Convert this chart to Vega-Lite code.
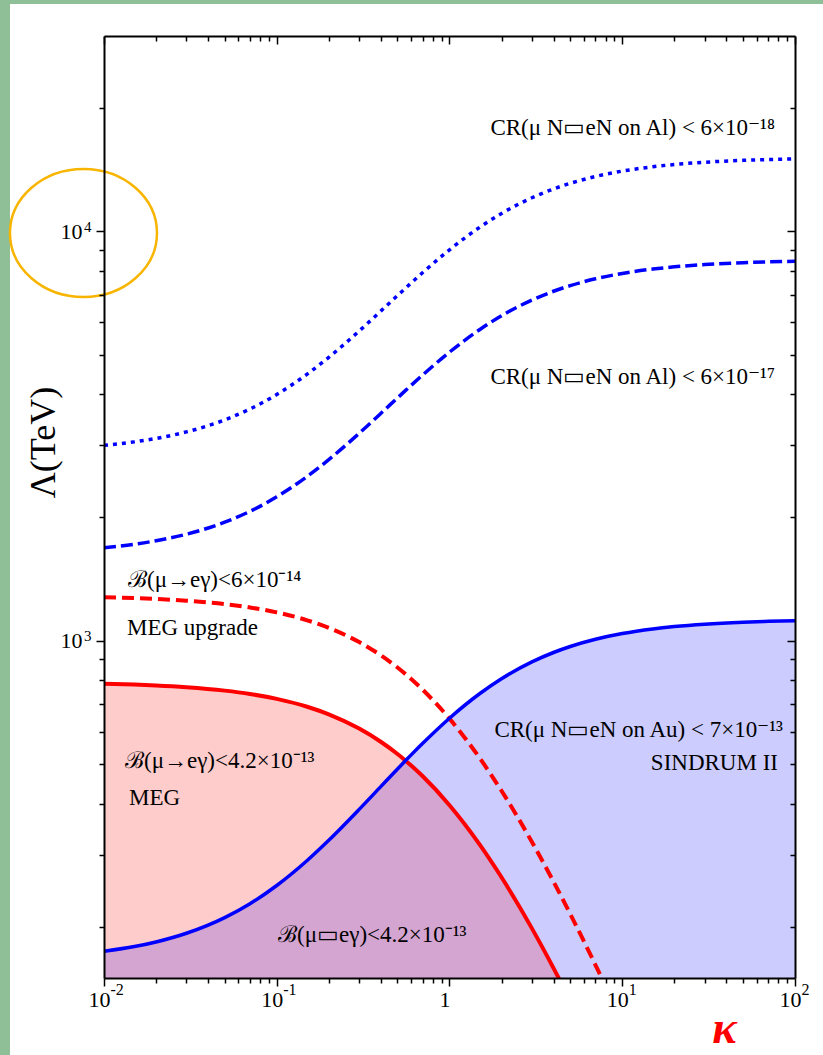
{
  "$schema": "https://vega.github.io/schema/vega-lite/v6.json",
  "width": 691,
  "height": 942,
  "autosize": {"type": "none"},
  "padding": {"left": 104, "top": 36, "right": 28, "bottom": 77},
  "background": "#8fbf96",
  "config": {
    "view": {"stroke": null},
    "axis": {
      "grid": false,
      "labelFont": "Liberation Serif",
      "labelFontSize": 22,
      "labelColor": "#000000",
      "tickColor": "#000000",
      "tickWidth": 1.5,
      "domainColor": "#000000",
      "domainWidth": 2,
      "titleFont": "Liberation Serif",
      "titleColor": "#000000",
      "titleFontWeight": "normal"
    }
  },
  "datasets": {
    "canvas": [{"x1": 0.002857, "x2": 300, "y1": 35920, "y2": 50}],
    "curves": [
      {"k": 0.01, "meg": 785.1, "megup": 1277.2, "au": 174.3, "ov": 174.3, "al17": 1687.3, "al18": 3000},
      {"k": 0.015, "meg": 781.3, "megup": 1270.9, "au": 179.0, "ov": 179.0, "al17": 1721.0, "al18": 3060},
      {"k": 0.02, "meg": 777.5, "megup": 1264.7, "au": 183.7, "ov": 183.7, "al17": 1754.3, "al18": 3119},
      {"k": 0.03, "meg": 769.9, "megup": 1252.4, "au": 192.9, "ov": 192.9, "al17": 1819.9, "al18": 3236},
      {"k": 0.05, "meg": 755.2, "megup": 1228.6, "au": 210.7, "ov": 210.7, "al17": 1947.5, "al18": 3463},
      {"k": 0.07, "meg": 741.1, "megup": 1205.6, "au": 227.8, "ov": 227.8, "al17": 2070.3, "al18": 3681},
      {"k": 0.1, "meg": 720.9, "megup": 1172.7, "au": 252.4, "ov": 252.4, "al17": 2246.2, "al18": 3994},
      {"k": 0.15, "meg": 689.6, "megup": 1121.7, "au": 290.5, "ov": 290.5, "al17": 2518.9, "al18": 4479},
      {"k": 0.2, "meg": 660.8, "megup": 1075.0, "au": 325.4, "ov": 325.4, "al17": 2768.8, "al18": 4923},
      {"k": 0.3, "meg": 610.0, "megup": 992.3, "au": 387.2, "ov": 387.2, "al17": 3211.1, "al18": 5709},
      {"k": 0.4, "meg": 566.4, "megup": 921.4, "au": 440.1, "ov": 440.1, "al17": 3590.1, "al18": 6383},
      {"k": 0.5, "meg": 528.7, "megup": 860.0, "au": 486.0, "ov": 486.0, "al17": 3918.7, "al18": 6968},
      {"k": 0.557, "meg": 509.3, "megup": 828.5, "au": 509.6, "ov": 509.3, "al17": 4087.0, "al18": 7267},
      {"k": 0.6, "meg": 495.6, "megup": 806.3, "au": 526.2, "ov": 495.6, "al17": 4206.1, "al18": 7478},
      {"k": 0.7, "meg": 466.5, "megup": 758.8, "au": 561.6, "ov": 466.5, "al17": 4459.8, "al18": 7930},
      {"k": 1, "meg": 396.5, "megup": 645.0, "au": 646.7, "ov": 396.5, "al17": 5068.5, "al18": 9012},
      {"k": 1.5, "meg": 317.2, "megup": 516.0, "au": 743.0, "ov": 317.2, "al17": 5758.4, "al18": 10238},
      {"k": 2, "meg": 264.3, "megup": 430.0, "au": 807.3, "ov": 264.3, "al17": 6218.3, "al18": 11056},
      {"k": 3, "meg": 198.3, "megup": 322.5, "au": 887.6, "ov": 198.3, "al17": 6793.3, "al18": 12078},
      {"k": 4, "meg": 158.6, "megup": 258.0, "au": 935.8, "ov": 158.6, "al17": 7138.2, "al18": 12692},
      {"k": 5, "meg": 132.2, "megup": 215.0, "au": 967.9, "ov": 132.2, "al17": 7368.2, "al18": 13101},
      {"k": 7, "meg": 99.1, "megup": 161.3, "au": 1008.0, "ov": null, "al17": 7655.6, "al18": 13612},
      {"k": 10, "meg": 72.1, "megup": 117.3, "au": 1040.9, "ov": null, "al17": 7890.8, "al18": 14030},
      {"k": 15, "meg": null, "megup": null, "au": 1068.3, "ov": null, "al17": 8086.8, "al18": 14378},
      {"k": 20, "meg": null, "megup": null, "au": 1082.6, "ov": null, "al17": 8189.5, "al18": 14561},
      {"k": 30, "meg": null, "megup": null, "au": 1097.4, "ov": null, "al17": 8295.5, "al18": 14749},
      {"k": 50, "meg": null, "megup": null, "au": 1109.6, "ov": null, "al17": 8382.7, "al18": 14905},
      {"k": 70, "meg": null, "megup": null, "au": 1114.9, "ov": null, "al17": 8420.8, "al18": 14972},
      {"k": 100, "meg": null, "megup": null, "au": 1119.0, "ov": null, "al17": 8449.7, "al18": 15024}
    ],
    "textsLeft": [
      {"t": "ℬ(μ→eγ)<6×10⁻¹⁴", "k": 0.01377, "v": 1407},
      {"t": "MEG upgrade", "k": 0.01359, "v": 1074},
      {"t": "ℬ(μ→eγ)<4.2×10⁻¹³", "k": 0.01323, "v": 508.4},
      {"t": "MEG", "k": 0.01395, "v": 412.9},
      {"t": "ℬ(μ▭eγ)<4.2×10⁻¹³", "k": 0.1017, "v": 191.0}
    ],
    "textsRight": [
      {"t": "CR(μ N▭eN on Al) < 6×10⁻¹⁸", "k": 76.6, "v": 17880},
      {"t": "CR(μ N▭eN on Al) < 6×10⁻¹⁷", "k": 76.6, "v": 4406},
      {"t": "CR(μ N▭eN on Au) < 7×10⁻¹³", "k": 85.2, "v": 605.3},
      {"t": "SINDRUM II", "k": 79.7, "v": 502.9}
    ],
    "ellipse": [{"k": 0.007606, "v": 9904}]
  },
  "resolve": {"axis": {"x": "independent", "y": "independent"}},
  "layer": [
    {
      "data": {"name": "canvas"},
      "mark": {"type": "rect", "fill": "#ffffff", "clip": false},
      "encoding": {
        "x": {"field": "x1", "type": "quantitative", "scale": {"type": "log", "domain": [0.01, 100], "nice": false}, "axis": null},
        "x2": {"field": "x2"},
        "y": {"field": "y1", "type": "quantitative", "scale": {"type": "log", "domain": [150, 30000], "nice": false}, "axis": null},
        "y2": {"field": "y2"}
      }
    },
    {
      "data": {"name": "curves"},
      "transform": [{"filter": "datum.meg != null"}],
      "mark": {"type": "area", "fill": "#ffcccc", "clip": true, "interpolate": "monotone"},
      "encoding": {
        "x": {"field": "k", "type": "quantitative", "scale": {"type": "log", "domain": [0.01, 100], "nice": false},
          "axis": {"orient": "bottom", "zindex": 2, "values": [0.01, 0.1, 1, 10, 100], "tickSize": 8, "labelPadding": 3,
            "labelFontSize": 22, "labelOffset": -5,
            "labelExpr": "datum.value > 0.5 && datum.value < 5 ? '\u00a0\u00a01' : '10'",
            "labelFlush": false, "labelOverlap": false,
            "title": "κ", "titleFontSize": 46, "titleFontStyle": "italic", "titleFontWeight": "bold", "titleColor": "#ff0000",
            "titleX": 620, "titleY": 50, "titleAlign": "center", "titleBaseline": "middle", "titleAngle": 0}},
        "y": {"field": "meg", "type": "quantitative", "scale": {"type": "log", "domain": [150, 30000], "nice": false},
          "axis": {"orient": "left", "zindex": 2, "values": [1000, 10000], "tickSize": 8, "labelPadding": 14,
            "labelFontSize": 22, "labelExpr": "'10'",
            "title": "Λ(TeV)", "titleFontSize": 36, "titleX": -61, "titleY": 406, "titleAlign": "center", "titleBaseline": "middle", "titleAngle": -90}},
        "y2": {"datum": 150}
      }
    },
    {
      "data": {"name": "curves"},
      "mark": {"type": "area", "fill": "#ccccff", "clip": true, "interpolate": "monotone"},
      "encoding": {
        "x": {"field": "k", "type": "quantitative", "scale": {"type": "log", "domain": [0.01, 100], "nice": false},
          "axis": {"orient": "bottom", "zindex": 2, "values": [0.02, 0.03, 0.04, 0.05, 0.06, 0.07, 0.08, 0.09, 0.2, 0.3, 0.4, 0.5, 0.6, 0.7, 0.8, 0.9, 2, 3, 4, 5, 6, 7, 8, 9, 20, 30, 40, 50, 60, 70, 80, 90], "tickSize": 5, "labels": false, "domain": false, "title": null}},
        "y": {"field": "au", "type": "quantitative", "scale": {"type": "log", "domain": [150, 30000], "nice": false},
          "axis": {"orient": "left", "zindex": 2, "values": [200, 300, 400, 500, 600, 700, 800, 900, 2000, 3000, 4000, 5000, 6000, 7000, 8000, 9000, 20000], "tickSize": 5, "labels": false, "domain": false, "title": null}},
        "y2": {"datum": 150}
      }
    },
    {
      "data": {"name": "curves"},
      "transform": [{"filter": "datum.ov != null"}],
      "mark": {"type": "area", "fill": "#d4a5d0", "clip": true, "interpolate": "linear"},
      "encoding": {
        "x": {"field": "k", "type": "quantitative", "scale": {"type": "log", "domain": [0.01, 100], "nice": false}, "axis": null},
        "y": {"field": "ov", "type": "quantitative", "scale": {"type": "log", "domain": [150, 30000], "nice": false}, "axis": null},
        "y2": {"datum": 150}
      }
    },
    {
      "data": {"name": "curves"},
      "transform": [{"filter": "datum.meg != null"}],
      "mark": {"type": "line", "stroke": "#ff0000", "strokeWidth": 4, "clip": true, "interpolate": "monotone"},
      "encoding": {
        "x": {"field": "k", "type": "quantitative", "scale": {"type": "log", "domain": [0.01, 100], "nice": false},
          "axis": {"orient": "top", "zindex": 2, "values": [0.01, 0.1, 1, 10, 100], "tickSize": -8, "labels": false, "title": null}},
        "y": {"field": "meg", "type": "quantitative", "scale": {"type": "log", "domain": [150, 30000], "nice": false},
          "axis": {"orient": "right", "zindex": 2, "values": [1000, 10000], "tickSize": -8, "labels": false, "title": null}}
      }
    },
    {
      "data": {"name": "curves"},
      "transform": [{"filter": "datum.megup != null"}],
      "mark": {"type": "line", "stroke": "#ff0000", "strokeWidth": 4, "strokeDash": [12, 6], "clip": true, "interpolate": "monotone"},
      "encoding": {
        "x": {"field": "k", "type": "quantitative", "scale": {"type": "log", "domain": [0.01, 100], "nice": false},
          "axis": {"orient": "top", "zindex": 2, "values": [0.02, 0.03, 0.04, 0.05, 0.06, 0.07, 0.08, 0.09, 0.2, 0.3, 0.4, 0.5, 0.6, 0.7, 0.8, 0.9, 2, 3, 4, 5, 6, 7, 8, 9, 20, 30, 40, 50, 60, 70, 80, 90], "tickSize": -5, "labels": false, "domain": false, "title": null}},
        "y": {"field": "megup", "type": "quantitative", "scale": {"type": "log", "domain": [150, 30000], "nice": false},
          "axis": {"orient": "right", "zindex": 2, "values": [200, 300, 400, 500, 600, 700, 800, 900, 2000, 3000, 4000, 5000, 6000, 7000, 8000, 9000, 20000], "tickSize": -5, "labels": false, "domain": false, "title": null}}
      }
    },
    {
      "data": {"name": "curves"},
      "mark": {"type": "line", "stroke": "#0000ff", "strokeWidth": 3.5, "clip": true, "interpolate": "monotone"},
      "encoding": {
        "x": {"field": "k", "type": "quantitative", "scale": {"type": "log", "domain": [0.01, 100], "nice": false},
          "axis": {"orient": "bottom", "zindex": 2, "values": [0.01, 0.1, 1, 10, 100], "tickSize": 8, "tickOpacity": 0, "domain": false,
            "labelPadding": -5, "labelFontSize": 16, "labelAlign": "left", "labelOffset": 6,
            "labelExpr": "datum.value < 0.05 ? '-2' : datum.value < 0.5 ? '-1' : datum.value < 5 ? '' : datum.value < 50 ? '1' : '2'",
            "labelFlush": false, "labelOverlap": false, "title": null}},
        "y": {"field": "au", "type": "quantitative", "scale": {"type": "log", "domain": [150, 30000], "nice": false},
          "axis": {"orient": "left", "zindex": 2, "values": [1000, 10000], "tickSize": 8, "tickOpacity": 0, "domain": false,
            "labelPadding": 5, "labelFontSize": 15, "labelOffset": -5,
            "labelExpr": "datum.value < 5000 ? '3' : '4'", "title": null}}
      }
    },
    {
      "data": {"name": "curves"},
      "mark": {"type": "line", "stroke": "#0000ff", "strokeWidth": 3.5, "strokeDash": [12, 5], "clip": true, "interpolate": "monotone"},
      "encoding": {
        "x": {"field": "k", "type": "quantitative", "scale": {"type": "log", "domain": [0.01, 100], "nice": false}, "axis": null},
        "y": {"field": "al17", "type": "quantitative", "scale": {"type": "log", "domain": [150, 30000], "nice": false}, "axis": null}
      }
    },
    {
      "data": {"name": "curves"},
      "mark": {"type": "line", "stroke": "#0000ff", "strokeWidth": 3.5, "strokeDash": [4, 5], "clip": true, "interpolate": "monotone"},
      "encoding": {
        "x": {"field": "k", "type": "quantitative", "scale": {"type": "log", "domain": [0.01, 100], "nice": false}, "axis": null},
        "y": {"field": "al18", "type": "quantitative", "scale": {"type": "log", "domain": [150, 30000], "nice": false}, "axis": null}
      }
    },
    {
      "data": {"name": "textsLeft"},
      "mark": {"type": "text", "align": "left", "baseline": "middle", "font": "Liberation Serif", "fontSize": 23, "color": "#000000"},
      "encoding": {
        "x": {"field": "k", "type": "quantitative", "scale": {"type": "log", "domain": [0.01, 100], "nice": false}, "axis": null},
        "y": {"field": "v", "type": "quantitative", "scale": {"type": "log", "domain": [150, 30000], "nice": false}, "axis": null},
        "text": {"field": "t"}
      }
    },
    {
      "data": {"name": "textsRight"},
      "mark": {"type": "text", "align": "right", "baseline": "middle", "font": "Liberation Serif", "fontSize": 23, "color": "#000000"},
      "encoding": {
        "x": {"field": "k", "type": "quantitative", "scale": {"type": "log", "domain": [0.01, 100], "nice": false}, "axis": null},
        "y": {"field": "v", "type": "quantitative", "scale": {"type": "log", "domain": [150, 30000], "nice": false}, "axis": null},
        "text": {"field": "t"}
      }
    },
    {
      "data": {"name": "ellipse"},
      "mark": {"type": "point", "shape": "M 1 0 C 1 0.481 0.5523 0.871 0 0.871 C -0.5523 0.871 -1 0.481 -1 0 C -1 -0.481 -0.5523 -0.871 0 -0.871 C 0.5523 -0.871 1 -0.481 1 0 Z", "size": 21609, "filled": false, "stroke": "#f8b500", "strokeWidth": 2.5, "opacity": 1, "clip": false},
      "encoding": {
        "x": {"field": "k", "type": "quantitative", "scale": {"type": "log", "domain": [0.01, 100], "nice": false}, "axis": null},
        "y": {"field": "v", "type": "quantitative", "scale": {"type": "log", "domain": [150, 30000], "nice": false}, "axis": null}
      }
    }
  ]
}
